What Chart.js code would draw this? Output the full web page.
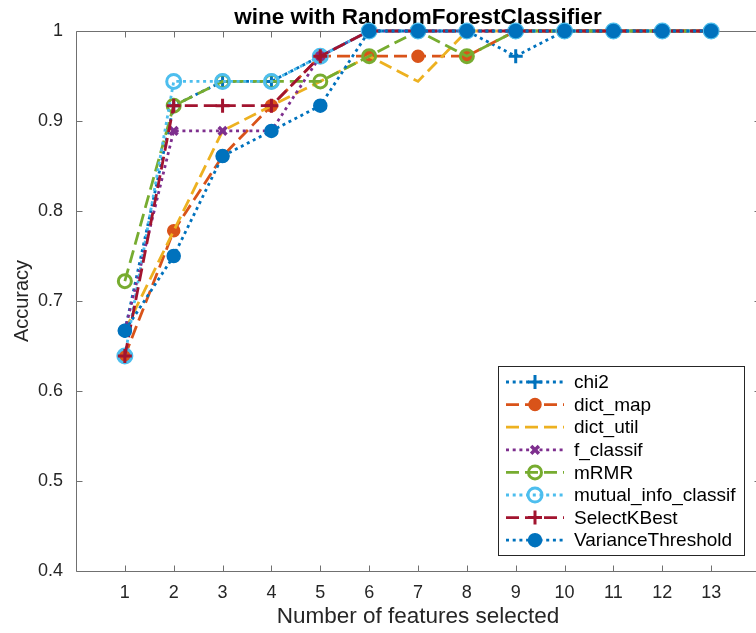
<!DOCTYPE html>
<html>
<head>
<meta charset="utf-8">
<title>wine with RandomForestClassifier</title>
<script src="https://cdn.jsdelivr.net/npm/chart.js@4.4.1/dist/chart.umd.min.js"></script>
<style>
  html, body { margin: 0; padding: 0; background: #fff; overflow: hidden; }
  #wrap { position: relative; width: 770px; height: 633px; }
</style>
</head>
<body>
<div id="wrap"><canvas id="accChart" width="770" height="633"></canvas></div>
<script>
// ============================================================================
// Data (accuracy per number of selected features)
// ============================================================================

const FEATURE_COUNTS = [1, 2, 3, 4, 5, 6, 7, 8, 9, 10, 11, 12, 13];
const X_TICKS = [1, 2, 3, 4, 5, 6, 7, 8, 9, 10, 11, 12, 13];
const Y_TICKS = [0.4, 0.5, 0.6, 0.7, 0.8, 0.9, 1];

const CHI2 =               [0.667, 0.917, 0.944, 0.944, 0.972, 1, 1, 1, 0.972, 1, 1, 1, 1];
const DICT_MAP =           [0.639, 0.778, 0.861, 0.917, 0.972, 0.972, 0.972, 0.972, 1, 1, 1, 1, 1];
const DICT_UTIL =          [0.667, 0.778, 0.889, 0.917, 0.944, 0.972, 0.944, 1, 1, 1, 1, 1, 1];
const F_CLASSIF =          [0.667, 0.889, 0.889, 0.889, 0.972, 1, 1, 1, 1, 1, 1, 1, 1];
const MRMR =               [0.722, 0.917, 0.944, 0.944, 0.944, 0.972, 1, 0.972, 1, 1, 1, 1, 1];
const MUTUAL_INFO =        [0.639, 0.944, 0.944, 0.944, 0.972, 1, 1, 1, 1, 1, 1, 1, 1];
const SELECT_K_BEST =      [0.639, 0.917, 0.917, 0.917, 0.972, 1, 1, 1, 1, 1, 1, 1, 1];
const VARIANCE_THRESHOLD = [0.667, 0.75, 0.861, 0.889, 0.917, 1, 1, 1, 1, 1, 1, 1, 1];

const SERIES_NAMES = ['chi2', 'dict_map', 'dict_util', 'f_classif', 'mRMR',
  'mutual_info_classif', 'SelectKBest', 'VarianceThreshold'];

// ============================================================================
// Styling
// ============================================================================

const FONT = "'Liberation Sans', Arial, Helvetica, sans-serif";
const TEXT_COLOR = '#262626';
const AXIS_COLOR = '#707070';
const TICK_LEN = 6;

const DOTTED = [3, 3.7];
const DASHED = [13, 6];

// color, dash, marker, radius, marker line width, filled
const STYLES = [
  { color: '#0072BD', dash: DOTTED, marker: 'cross',    r: 7,   mw: 3,   filled: false },
  { color: '#D95319', dash: DASHED, marker: 'circle',   r: 6,   mw: 1.5, filled: true },
  { color: '#EDB120', dash: DASHED, marker: false,      r: 0,   mw: 0,   filled: false },
  { color: '#7E2F8E', dash: DOTTED, marker: 'crossRot', r: 5.5, mw: 3.5, filled: false },
  { color: '#77AC30', dash: DASHED, marker: 'circle',   r: 6.5, mw: 3,   filled: false },
  { color: '#4DBEEE', dash: DOTTED, marker: 'circle',   r: 7,   mw: 3,   filled: false },
  { color: '#A2142F', dash: DASHED, marker: 'cross',    r: 7,   mw: 3,   filled: false },
  { color: '#0072BD', dash: DOTTED, marker: 'circle',   r: 6.5, mw: 1.5, filled: true }
];

const SERIES_VALUES = [CHI2, DICT_MAP, DICT_UTIL, F_CLASSIF, MRMR, MUTUAL_INFO,
  SELECT_K_BEST, VARIANCE_THRESHOLD];

// ============================================================================
// Datasets
// ============================================================================

function buildDatasets() {
  return SERIES_NAMES.map((name, i) => {
    const s = STYLES[i];
    return {
      label: name,
      data: FEATURE_COUNTS.map((n, k) => ({ x: n, y: SERIES_VALUES[i][k] })),
      borderColor: s.color,
      borderWidth: 2.8,
      borderDash: s.dash,
      borderCapStyle: 'butt',
      fill: false,
      tension: 0,
      pointStyle: s.marker || 'circle',
      pointRadius: s.marker ? s.r : 0,
      pointBorderWidth: s.mw,
      pointBorderColor: s.color,
      pointBackgroundColor: s.filled ? s.color : 'rgba(0,0,0,0)',
      clip: false,
      // later series are drawn on top, like MATLAB
      order: SERIES_NAMES.length - i
    };
  });
}

// ============================================================================
// Plugins
// ============================================================================

/**
 * Axes box with inward tick marks on all four sides
 */
const axesBoxPlugin = {
  id: 'axesBox',
  beforeDatasetsDraw(chart) {
    const { ctx, chartArea: a, scales: { x, y } } = chart;
    const L = Math.round(a.left) + 0.5, R = Math.round(a.right) + 0.5;
    const T = Math.round(a.top) + 0.5, B = Math.round(a.bottom) + 0.5;
    ctx.save();
    ctx.strokeStyle = AXIS_COLOR;
    ctx.lineWidth = 1;
    ctx.beginPath();
    ctx.rect(L, T, R - L, B - T);
    x.ticks.forEach(t => {
      const px = Math.round(x.getPixelForValue(t.value)) + 0.5;
      ctx.moveTo(px, B); ctx.lineTo(px, B - TICK_LEN);
      ctx.moveTo(px, T); ctx.lineTo(px, T + TICK_LEN);
    });
    y.ticks.forEach(t => {
      const py = Math.round(y.getPixelForValue(t.value)) + 0.5;
      ctx.moveTo(L, py); ctx.lineTo(L + TICK_LEN, py);
      ctx.moveTo(R, py); ctx.lineTo(R - TICK_LEN, py);
    });
    ctx.stroke();
    ctx.restore();
  }
};

/**
 * Draw one marker for the legend
 */
function drawMarker(ctx, s, cx, cy) {
  if (!s.marker) return;
  ctx.save();
  ctx.setLineDash([]);
  ctx.strokeStyle = s.color;
  ctx.fillStyle = s.color;
  ctx.lineWidth = s.mw;
  ctx.beginPath();
  if (s.marker === 'circle') {
    ctx.arc(cx, cy, s.r, 0, Math.PI * 2);
    if (s.filled) ctx.fill();
    ctx.stroke();
  } else if (s.marker === 'cross') {
    ctx.moveTo(cx - s.r, cy); ctx.lineTo(cx + s.r, cy);
    ctx.moveTo(cx, cy - s.r); ctx.lineTo(cx, cy + s.r);
    ctx.stroke();
  } else if (s.marker === 'crossRot') {
    const d = s.r * Math.SQRT1_2;
    ctx.moveTo(cx - d, cy - d); ctx.lineTo(cx + d, cy + d);
    ctx.moveTo(cx + d, cy - d); ctx.lineTo(cx - d, cy + d);
    ctx.stroke();
  }
  ctx.restore();
}

/**
 * MATLAB-like legend box in the lower right of the axes
 */
const boxLegendPlugin = {
  id: 'boxLegend',
  afterDraw(chart) {
    const { ctx, chartArea: a } = chart;
    const right = Math.round(a.right) - 16, bottom = Math.round(a.bottom) - 16;
    const w = 246, h = 189;
    const left = right - w, top = bottom - h;
    const rowH = 22.6;

    ctx.save();
    ctx.fillStyle = '#fff';
    ctx.fillRect(left, top, w, h);
    ctx.strokeStyle = TEXT_COLOR;
    ctx.lineWidth = 1;
    ctx.strokeRect(left + 0.5, top + 0.5, w, h);

    ctx.font = '19px ' + FONT;
    ctx.textBaseline = 'middle';
    ctx.textAlign = 'left';

    chart.data.datasets.forEach((ds, i) => {
      const s = STYLES[i];
      const cy = top + 16 + i * rowH;
      ctx.save();
      ctx.strokeStyle = s.color;
      ctx.lineWidth = 2.8;
      ctx.setLineDash(s.dash);
      ctx.beginPath();
      ctx.moveTo(left + 8, cy);
      ctx.lineTo(left + 66, cy);
      ctx.stroke();
      ctx.restore();
      drawMarker(ctx, s, left + 37, cy);
      ctx.fillStyle = '#000';
      ctx.fillText(ds.label, left + 76, cy + 1);
    });
    ctx.restore();
  }
};

// keep the axes box exactly where the fixed sizes put it
function noScalePadding(scale) {
  scale.paddingLeft = 0;
  scale.paddingRight = 0;
  scale.paddingTop = 0;
  scale.paddingBottom = 0;
}

// ============================================================================
// Chart
// ============================================================================

function renderChart() {
  const ctx = document.getElementById('accChart').getContext('2d');

  new Chart(ctx, {
    type: 'line',
    data: { datasets: buildDatasets() },
    options: {
      responsive: false,
      animation: false,
      events: [],
      layout: { padding: { left: 0, right: 3, top: 0, bottom: 0 } },
      scales: {
        x: {
          type: 'linear',
          min: 0,
          max: 14,
          afterBuildTicks: scale => { scale.ticks = X_TICKS.map(v => ({ value: v })); },
          afterFit: scale => { scale.height = 62; noScalePadding(scale); },
          grid: { display: false, drawTicks: false },
          border: { display: false },
          ticks: {
            autoSkip: false,
            maxRotation: 0,
            padding: 11,
            color: TEXT_COLOR,
            font: { family: FONT, size: 18 }
          },
          title: {
            display: true,
            text: 'Number of features selected',
            color: TEXT_COLOR,
            font: { family: FONT, size: 22.5 },
            padding: { top: 0, bottom: 3 }
          }
        },
        y: {
          min: 0.4,
          max: 1,
          afterBuildTicks: scale => { scale.ticks = Y_TICKS.map(v => ({ value: v })); },
          afterFit: scale => { scale.width = 76; noScalePadding(scale); },
          grid: { display: false, drawTicks: false },
          border: { display: false },
          ticks: {
            padding: 13,
            color: TEXT_COLOR,
            font: { family: FONT, size: 18 },
            callback: v => String(Number(v.toFixed(1)))
          },
          title: {
            display: true,
            text: 'Accuracy',
            color: TEXT_COLOR,
            font: { family: FONT, size: 20 },
            padding: { top: 10, bottom: 0 }
          }
        }
      },
      plugins: {
        legend: { display: false },
        tooltip: { enabled: false },
        title: {
          display: true,
          fullSize: false,
          text: 'wine with RandomForestClassifier',
          color: '#000',
          font: { family: FONT, size: 22.5, weight: 'bold' },
          padding: { top: 4, bottom: 0 }
        }
      }
    },
    plugins: [axesBoxPlugin, boxLegendPlugin]
  });
}

renderChart();
</script>
</body>
</html>
